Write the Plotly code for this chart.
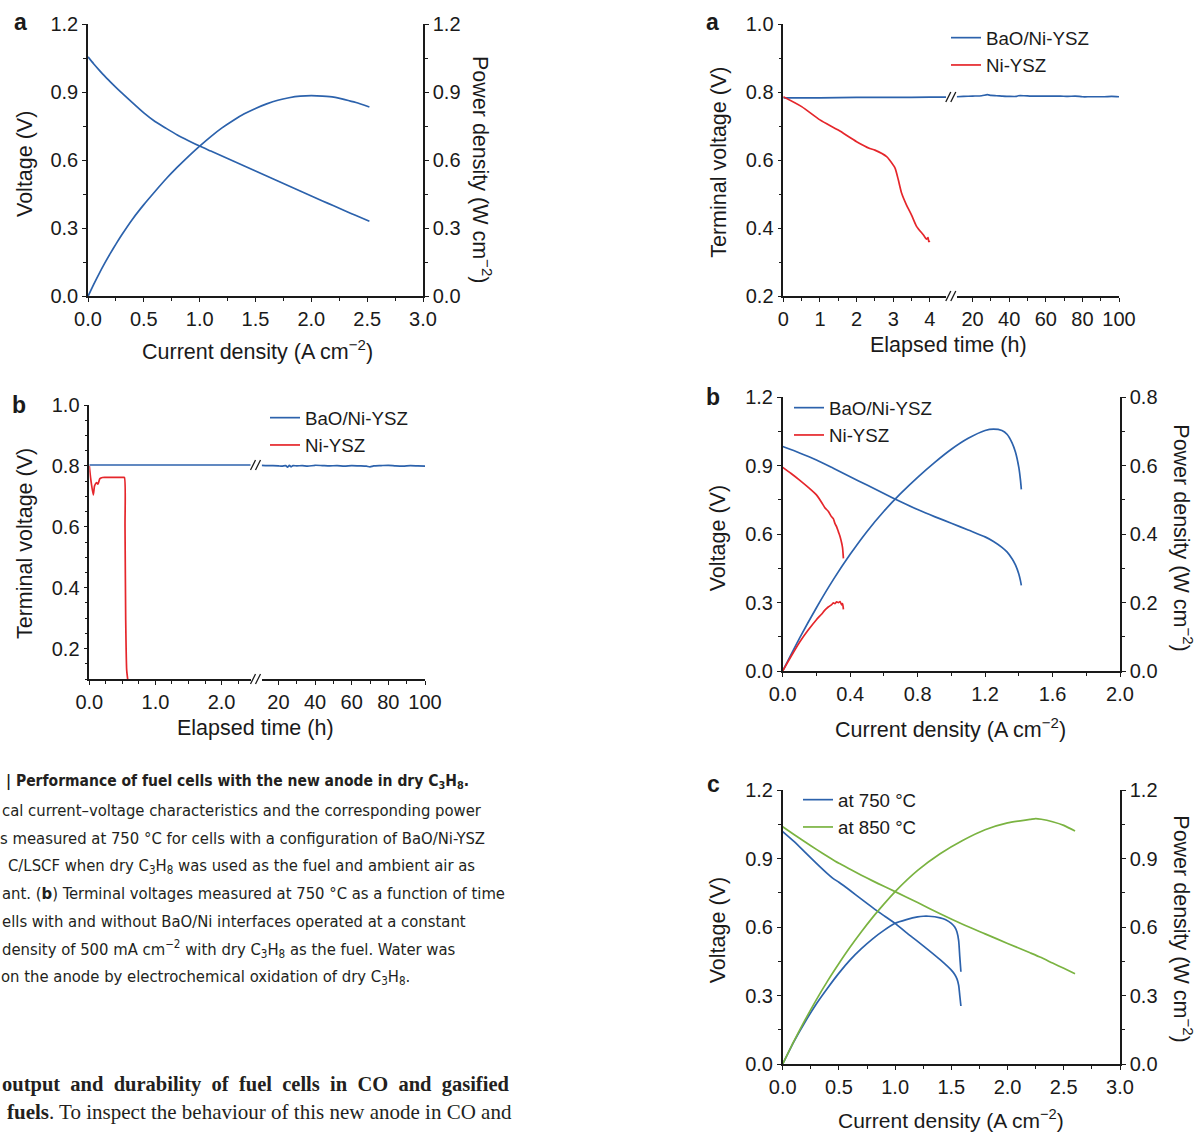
import plotly.graph_objects as go

W, H = 1196, 1134
def X(px): return px / W
def Y(py): return 1 - py / H

BLUE = '#2c62ac'
RED = '#e5262b'
GREEN = '#7ab341'
INK = '#1a1a1a'
SANS = 'Liberation Sans, Arial, sans-serif'
NARROW = 'Liberation Sans Narrow, DejaVu Sans Condensed, sans-serif'
SERIF = 'Liberation Serif, serif'

# ---------------- Panel a (left): I-V and power, BaO/Ni-YSZ 750 C ----------------
la_i = [0, 0.05, 0.1, 0.15, 0.2, 0.25, 0.3, 0.4, 0.5, 0.6, 0.7, 0.8, 0.9, 1.0, 1.1, 1.2, 1.3,
        1.4, 1.5, 1.6, 1.7, 1.8, 1.9, 2.0, 2.1, 2.2, 2.3, 2.4, 2.52]
la_v = [1.055, 1.025, 0.997, 0.970, 0.945, 0.921, 0.898, 0.852, 0.808, 0.770, 0.740, 0.711,
        0.686, 0.662, 0.640, 0.618, 0.596, 0.574, 0.552, 0.530, 0.508, 0.486, 0.464, 0.442,
        0.420, 0.399, 0.377, 0.356, 0.331]
la_p = [0, 0.051, 0.100, 0.146, 0.189, 0.230, 0.269, 0.341, 0.404, 0.462, 0.518, 0.569, 0.617,
        0.662, 0.704, 0.742, 0.775, 0.804, 0.828, 0.848, 0.864, 0.875, 0.882, 0.884, 0.882,
        0.878, 0.867, 0.854, 0.834]

# ---------------- Panel b (left): stability at 500 mA cm-2 ----------------
lb_blue_t1 = [0, 0.5, 1.0, 1.5, 2.0, 2.44]
lb_blue_v1 = [0.803, 0.803, 0.803, 0.803, 0.803, 0.803]
lb_blue_t2 = [10.9, 14, 17, 20, 22, 24, 25, 26, 27, 28, 30, 33, 36, 40, 44, 48, 52,
              56, 60, 64, 68, 70, 72, 76, 80, 84, 88, 92, 96, 100]
lb_blue_v2 = [0.802, 0.801, 0.801, 0.800, 0.799, 0.801, 0.796, 0.802, 0.797, 0.801, 0.800,
              0.801, 0.799, 0.802, 0.801, 0.800, 0.801, 0.799, 0.801, 0.800, 0.799, 0.797,
              0.800, 0.801, 0.802, 0.800, 0.799, 0.801, 0.800, 0.799]
lb_red_t = [0, 0.02, 0.06, 0.08, 0.11, 0.13, 0.16, 0.2, 0.3, 0.4, 0.5, 0.53, 0.54, 0.55, 0.565, 0.58]
lb_red_v = [0.80, 0.76, 0.705, 0.735, 0.745, 0.740, 0.758, 0.762, 0.762, 0.762, 0.762, 0.762,
            0.60, 0.30, 0.13, 0.10]

# ---------------- Panel a (right): stability ----------------
ra_blue_t1 = [0, 1, 2, 3, 4, 4.44]
ra_blue_v1 = [0.783, 0.783, 0.784, 0.784, 0.785, 0.785]
ra_blue_t2 = [11.3, 15, 20, 25, 28, 30, 33, 36, 40, 44, 45, 48, 52, 56, 60, 64, 68, 72, 76,
              80, 84, 88, 92, 96, 100]
ra_blue_v2 = [0.786, 0.787, 0.788, 0.789, 0.792, 0.790, 0.789, 0.788, 0.787, 0.787, 0.789,
              0.789, 0.788, 0.788, 0.788, 0.788, 0.788, 0.787, 0.788, 0.786, 0.786, 0.786,
              0.786, 0.787, 0.786]
ra_red_t = [0, 0.5, 1.0, 1.5, 2.0, 2.36, 2.5, 2.82, 2.9, 3.05, 3.14, 3.23, 3.36, 3.5, 3.64,
            3.82, 3.91, 3.95, 3.97, 4.0]
ra_red_v = [0.786, 0.757, 0.718, 0.688, 0.654, 0.634, 0.629, 0.610, 0.600, 0.576, 0.541,
            0.502, 0.468, 0.438, 0.404, 0.380, 0.367, 0.372, 0.360, 0.362]

# ---------------- Panel b (right): I-V, BaO/Ni-YSZ vs Ni-YSZ ----------------
rb_blue_i = [0, 0.1, 0.2, 0.3, 0.4, 0.5, 0.6, 0.7, 0.8, 0.9, 1.0, 1.1, 1.2, 1.25, 1.3, 1.33,
             1.36, 1.38, 1.4, 1.41, 1.415]
rb_blue_v = [0.984, 0.956, 0.925, 0.889, 0.852, 0.815, 0.778, 0.742, 0.708, 0.677, 0.648,
             0.618, 0.588, 0.568, 0.542, 0.522, 0.492, 0.465, 0.425, 0.395, 0.375]
rb_blue_p = [0, 0.096, 0.185, 0.267, 0.341, 0.408, 0.467, 0.519, 0.566, 0.609, 0.648, 0.680,
             0.703, 0.707, 0.703, 0.692, 0.667, 0.640, 0.595, 0.557, 0.531]
rb_red_i = [0, 0.05, 0.1, 0.15, 0.2, 0.23, 0.25, 0.27, 0.29, 0.30, 0.31, 0.32, 0.33, 0.34, 0.35, 0.355, 0.36]
rb_red_v = [0.893, 0.866, 0.837, 0.806, 0.772, 0.740, 0.716, 0.700, 0.676, 0.668, 0.646, 0.632,
            0.611, 0.590, 0.560, 0.540, 0.494]
rb_red_p = [0, 0.043, 0.084, 0.119, 0.150, 0.166, 0.178, 0.187, 0.194, 0.199, 0.197, 0.202,
            0.200, 0.203, 0.193, 0.197, 0.180]

# ---------------- Panel c (right): 750 vs 850 C ----------------
rc_750_i = [0, 0.1, 0.2, 0.3, 0.4, 0.45, 0.5, 0.6, 0.7, 0.8, 0.9, 1.0, 1.1, 1.2, 1.3, 1.4, 1.5,
            1.53, 1.55, 1.565, 1.575, 1.585]
rc_750_v = [1.018, 0.975, 0.927, 0.879, 0.833, 0.812, 0.796, 0.760, 0.722, 0.685, 0.650, 0.616,
            0.575, 0.537, 0.498, 0.457, 0.411, 0.392, 0.373, 0.345, 0.300, 0.254]
rc_750_pi = [0, 0.1, 0.2, 0.3, 0.4, 0.5, 0.6, 0.7, 0.8, 0.9, 1.0, 1.1, 1.2, 1.25, 1.3, 1.4, 1.45,
             1.5, 1.53, 1.55, 1.565, 1.575, 1.585]
rc_750_p = [0, 0.098, 0.185, 0.264, 0.333, 0.398, 0.456, 0.505, 0.548, 0.585, 0.616, 0.632,
            0.644, 0.647, 0.647, 0.640, 0.632, 0.616, 0.600, 0.578, 0.540, 0.470, 0.404]
rc_850_i = [0, 0.1, 0.2, 0.3, 0.4, 0.5, 0.6, 0.7, 0.8, 0.9, 1.0, 1.2, 1.4, 1.6, 1.8, 2.0, 2.2,
            2.3, 2.4, 2.5, 2.6]
rc_850_v = [1.039, 1.005, 0.972, 0.940, 0.909, 0.879, 0.853, 0.827, 0.802, 0.778, 0.755, 0.707,
            0.658, 0.612, 0.570, 0.528, 0.487, 0.466, 0.442, 0.419, 0.395]
rc_850_pi = [0, 0.1, 0.2, 0.3, 0.4, 0.5, 0.6, 0.7, 0.8, 0.9, 1.0, 1.2, 1.4, 1.6, 1.8, 2.0, 2.2,
             2.25, 2.3, 2.4, 2.5, 2.6]
rc_850_p = [0, 0.100, 0.194, 0.282, 0.364, 0.440, 0.512, 0.579, 0.642, 0.700, 0.755, 0.848,
            0.921, 0.979, 1.026, 1.056, 1.071, 1.075, 1.072, 1.061, 1.045, 1.020]

fig = go.Figure()
LW = 1.7

def add(x, y, xa, ya, color, name=None, legend=None, show=False):
    fig.add_trace(go.Scatter(x=x, y=y, xaxis=xa, yaxis=ya, mode='lines',
                             line=dict(color=color, width=LW, shape='spline', smoothing=0.6),
                             name=name or '', showlegend=show, legend=legend or 'legend',
                             hoverinfo='skip'))

# panel a left
add(la_i, la_v, 'x', 'y', BLUE)
add(la_i, la_p, 'x', 'y2', BLUE)
# panel b left
add(lb_blue_t1, lb_blue_v1, 'x2', 'y3', BLUE, 'BaO/Ni-YSZ', 'legend', True)
add(lb_blue_t2, lb_blue_v2, 'x3', 'y3', BLUE)
add(lb_red_t, lb_red_v, 'x2', 'y3', RED, 'Ni-YSZ', 'legend', True)
# panel a right
add(ra_blue_t1, ra_blue_v1, 'x4', 'y4', BLUE, 'BaO/Ni-YSZ', 'legend2', True)
add(ra_blue_t2, ra_blue_v2, 'x5', 'y4', BLUE)
add(ra_red_t, ra_red_v, 'x4', 'y4', RED, 'Ni-YSZ', 'legend2', True)
# panel b right
add(rb_blue_i, rb_blue_v, 'x6', 'y5', BLUE, 'BaO/Ni-YSZ', 'legend3', True)
add(rb_blue_i, rb_blue_p, 'x6', 'y6', BLUE)
add(rb_red_i, rb_red_v, 'x6', 'y5', RED, 'Ni-YSZ', 'legend3', True)
add(rb_red_i, rb_red_p, 'x6', 'y6', RED)
# panel c right
add(rc_750_i, rc_750_v, 'x7', 'y7', BLUE, 'at 750 °C', 'legend4', True)
add(rc_750_pi, rc_750_p, 'x7', 'y8', BLUE)
add(rc_850_i, rc_850_v, 'x7', 'y7', GREEN, 'at 850 °C', 'legend4', True)
add(rc_850_pi, rc_850_p, 'x7', 'y8', GREEN)

TF = dict(family=SANS, size=20, color=INK)

def ax(domain, rng, anchor, dtick, mdtick, fmt, **kw):
    d = dict(domain=domain, range=rng, anchor=anchor, showline=True, linecolor=INK,
             linewidth=1.5, ticks='outside', ticklen=4, tickwidth=1.3, tickcolor=INK,
             showgrid=False, zeroline=False, tickfont=TF, dtick=dtick, tick0=0,
             tickformat=fmt, fixedrange=True, automargin=False,
             minor=dict(ticks='outside', ticklen=3, tickwidth=1.2, tickcolor=INK,
                        dtick=mdtick, tick0=0, showgrid=False))
    d.update(kw)
    return d

layout = dict(
    template='none',
    width=W, height=H, margin=dict(l=0, r=0, t=0, b=0, pad=0, autoexpand=False), autosize=False,
    paper_bgcolor='white', plot_bgcolor='rgba(0,0,0,0)',
    font=dict(family=SANS, size=19, color=INK),
    # panel a left
    xaxis=ax([X(88), X(423)], [0, 3], 'y', 0.5, 0.25, '.1f'),
    yaxis=ax([Y(296.3), Y(24)], [0, 1.2], 'x', 0.3, 0.15, '.1f'),
    yaxis2=ax([Y(296.3), Y(24)], [0, 1.2], 'x', 0.3, 0.15, '.1f', overlaying='y', side='right'),
    # panel b left (broken axis)
    xaxis2=ax([X(89.3), X(250.7)], [0, 2.44], 'y3', 1.0, 0.25, '.1f'),
    xaxis3=ax([X(261.7), X(425)], [10.9, 100], 'y3', 20, 10, 'd'),
    yaxis3=ax([Y(679), Y(405)], [0.1, 1.0], 'x2', 0.2, 0.05, '.1f'),
    # panel a right (broken axis)
    xaxis4=ax([X(783.3), X(946)], [0, 4.44], 'y4', 1, 0.5, 'd'),
    xaxis5=ax([X(956.7), X(1119)], [11.3, 100], 'y4', 20, 10, 'd'),
    yaxis4=ax([Y(296), Y(24)], [0.2, 1.0], 'x4', 0.2, 0.1, '.1f'),
    # panel b right
    xaxis6=ax([X(782.7), X(1120)], [0, 2], 'y5', 0.4, 0.2, '.1f'),
    yaxis5=ax([Y(671), Y(397.3)], [0, 1.2], 'x6', 0.3, 0.15, '.1f'),
    yaxis6=ax([Y(671), Y(397.3)], [0, 0.8], 'x6', 0.2, 0.1, '.1f', overlaying='y5', side='right'),
    # panel c right
    xaxis7=ax([X(782.7), X(1120)], [0, 3], 'y7', 0.5, 0.25, '.1f'),
    yaxis7=ax([Y(1064), Y(790)], [0, 1.2], 'x7', 0.3, 0.15, '.1f'),
    yaxis8=ax([Y(1064), Y(790)], [0, 1.2], 'x7', 0.3, 0.15, '.1f', overlaying='y7', side='right'),
)

LEG = dict(font=dict(family=SANS, size=18.7, color=INK), bgcolor='rgba(0,0,0,0)',
           xanchor='left', yanchor='top', itemwidth=30, tracegroupgap=0, borderwidth=0)
layout['legend'] = dict(LEG, x=X(265), y=Y(399))
layout['legend2'] = dict(LEG, x=X(946), y=Y(19))
layout['legend3'] = dict(LEG, x=X(789), y=Y(389))
layout['legend4'] = dict(LEG, x=X(798), y=Y(781))

fig.update_layout(**layout)

ann = []
def text(px, py, t, size=21.5, family=SANS, angle=0, xanchor='center', bold=False, color=INK):
    ann.append(dict(x=X(px), y=Y(py), xref='paper', yref='paper', text=(f'<b>{t}</b>' if bold else t),
                    showarrow=False, textangle=angle, xanchor=xanchor, yanchor='middle',
                    font=dict(family=family, size=size, color=color)))

# panel letters
text(20, 21.7, 'a', 23, bold=True)
text(19, 405, 'b', 23, bold=True)
text(712.7, 21.7, 'a', 23, bold=True)
text(713.3, 396.7, 'b', 23, bold=True)
text(713.3, 784, 'c', 23, bold=True)

CD = 'Current density (A cm<sup>−2</sup>)'
PD = 'Power density (W cm<sup>−2</sup>)'
# axis titles
text(25, 164, 'Voltage (V)', angle=-90)
text(482, 169, PD, angle=90)
text(257, 350, CD)
text(25, 544, 'Terminal voltage (V)', angle=-90)
text(255, 728, 'Elapsed time (h)')
text(718.3, 162.5, 'Terminal voltage (V)', angle=-90)
text(948.3, 345, 'Elapsed time (h)')
text(718.3, 538, 'Voltage (V)', angle=-90)
text(1182.7, 538, PD, angle=90)
text(950.8, 728, CD)
text(718.3, 930, 'Voltage (V)', angle=-90)
text(1182.7, 929, PD, angle=90)
text(950.8, 1118.5, CD, 21)

# caption text (page fragment)
C38 = 'C<sub>3</sub>H<sub>8</sub>'
text(4, 781.7, f'<b>| Performance of fuel cells with the new anode in dry {C38}.</b>', 15.5, NARROW,
     xanchor='left', color='#231f20')
cap = [
    (0, 810, 'cal current–voltage characteristics and the corresponding power'),
    (-2, 838, 's measured at 750 °C for cells with a configuration of BaO/Ni-YSZ'),
    (6, 866, f'C/LSCF when dry {C38} was used as the fuel and ambient air as'),
    (0, 893.5, 'ant. (<b>b</b>) Terminal voltages measured at 750 °C as a function of time'),
    (0, 921.5, 'ells with and without BaO/Ni interfaces operated at a constant'),
    (0, 949, f'density of 500 mA cm<sup>−2</sup> with dry {C38} as the fuel. Water was'),
    (-1, 977, f'on the anode by electrochemical oxidation of dry {C38}.'),
]
for px, py, t in cap:
    text(px, py, t, 16.5, NARROW, xanchor='left', color='#231f20')

text(0, 1084, '<b>output  and  durability  of  fuel  cells  in  CO  and  gasified</b>', 20.5, SERIF,
     xanchor='left', color='#231f20')
text(5, 1112, '<b>fuels</b>. To inspect the behaviour of this new anode in CO and', 21, SERIF,
     xanchor='left', color='#231f20')

fig.update_layout(annotations=ann)

# axis break marks
shapes = []
def brk(cx, cy):
    shapes.append(dict(type='rect', xref='paper', yref='paper', x0=X(cx - 5), x1=X(cx + 5),
                       y0=Y(cy + 5), y1=Y(cy - 5), line=dict(width=0), fillcolor='white', layer='above'))
    for dx in (-3, 2):
        shapes.append(dict(type='line', xref='paper', yref='paper', x0=X(cx + dx - 2.5), y0=Y(cy + 5),
                           x1=X(cx + dx + 2.5), y1=Y(cy - 5), line=dict(color=INK, width=1.3), layer='above'))
brk(256, 679)
brk(256, 465)
brk(951.3, 296)
brk(951.3, 97)
fig.update_layout(shapes=shapes)

fig.write_html('out.html')
